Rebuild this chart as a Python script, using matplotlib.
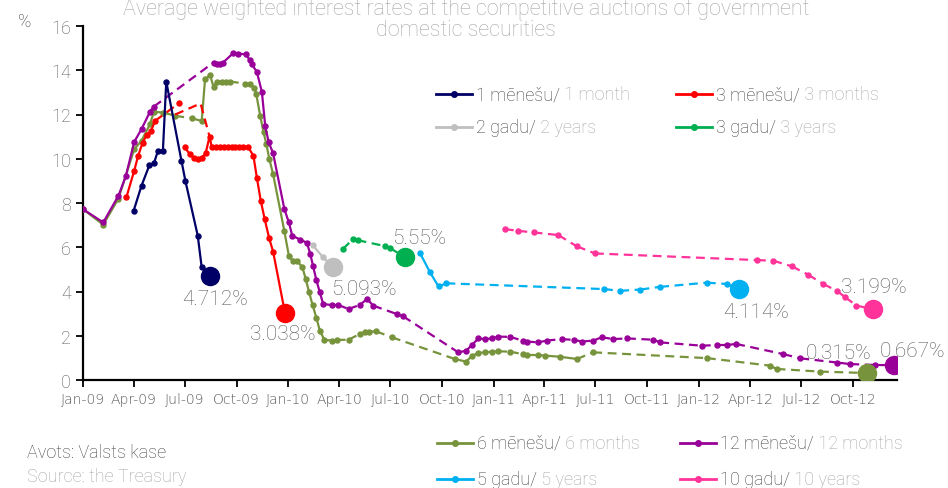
import datetime as dt
import matplotlib
matplotlib.use('Agg')
import matplotlib.pyplot as plt
from matplotlib.lines import Line2D

plt.rcParams['font.family'] = ['Roboto', 'DejaVu Sans']
plt.rcParams['font.weight'] = 'light'

title_lines = ['Average weighted interest rates at the competitive auctions of government',
               'domestic securities']

# None = pause between auctions (joined with a dashed line)
m1_dates = ['2009-04-01', '2009-04-15', '2009-04-29', '2009-05-07', '2009-05-14', '2009-05-23',
            '2009-05-29', '2009-06-25', '2009-07-02', '2009-07-24', '2009-07-31', '2009-08-15']
m1_vals = [7.65, 8.78, 9.71, 9.79, 10.34, 10.34, 13.49, 9.91, 9.0, 6.52, 5.09, 4.712]

m3_dates = ['2009-03-19', '2009-04-02', '2009-04-09', '2009-04-17', '2009-04-24', '2009-05-02', '2009-05-09', None,
            '2009-06-20', None,
            '2009-07-01', '2009-07-10', '2009-07-17', '2009-07-24', '2009-07-31', '2009-08-07', '2009-08-14',
            '2009-08-18', '2009-08-25', '2009-09-01', '2009-09-08', '2009-09-15', '2009-09-22', '2009-09-29',
            '2009-10-06', '2009-10-13', '2009-10-22', '2009-10-31', '2009-11-06', '2009-11-13', '2009-11-20',
            '2009-11-28', '2009-12-05', '2009-12-26']
m3_vals = [8.25, 9.45, 10.13, 10.73, 11.07, 11.26, 11.71, None,
           12.5, None,
           10.51, 10.2, 10.05, 10.01, 10.05, 10.25, 11.0,
           10.51, 10.51, 10.51, 10.51, 10.51, 10.51, 10.51,
           10.51, 10.51, 10.51, 10.13, 9.15, 8.10, 7.27,
           6.40, 5.80, 3.038]
m3_link_dates = ['2009-05-09', '2009-06-20', None, '2009-06-14', '2009-07-29', '2009-08-14']
m3_link_vals = [11.71, 12.5, None, 12.0, 12.5, 11.0]

m6_dates = ['2009-01-01', '2009-02-06', '2009-03-05', '2009-04-02', '2009-04-15', '2009-04-30', '2009-05-07',
            '2009-05-24', None,
            '2009-06-14', None,
            '2009-07-13', '2009-07-31', '2009-08-06', '2009-08-15', '2009-08-21', '2009-08-27', '2009-09-05',
            '2009-09-12', '2009-09-19', None,
            '2009-10-16', '2009-10-25', '2009-11-01', '2009-11-05', '2009-11-12', '2009-11-18', '2009-11-23',
            '2009-11-28', '2009-12-05', '2009-12-25', '2010-01-02', '2010-01-10', '2010-01-17', '2010-01-26',
            '2010-02-01', '2010-02-07', '2010-02-13', '2010-02-20', '2010-02-26', '2010-03-06', '2010-03-19',
            '2010-03-28', None,
            '2010-04-18', None,
            '2010-05-08', '2010-05-17', '2010-05-25', '2010-06-06', None,
            '2010-07-04', None,
            '2010-10-24', '2010-11-13', '2010-11-24', '2010-12-05', '2010-12-17', '2010-12-29', '2011-01-09', None,
            '2011-01-30', None,
            '2011-02-22', '2011-03-01', None,
            '2011-03-21', '2011-04-03', '2011-04-29', '2011-05-29', None,
            '2011-06-27', None,
            '2012-01-15', None,
            '2012-05-06', '2012-05-18', None,
            '2012-08-03', None,
            '2012-10-25']
m6_vals = [7.72, 7.02, 8.20, 10.43, 10.81, 11.56, 12.12,
           12.09, None,
           11.94, None,
           11.83, 11.71, 13.60, 13.78, 13.25, 13.49, 13.49,
           13.49, 13.49, None,
           13.40, 13.37, 13.22, 12.92, 11.94, 11.19, 10.66,
           10.01, 9.30, 6.72, 5.61, 5.36, 5.36, 5.10,
           4.56, 3.96, 3.40, 2.80, 2.23, 1.82, 1.78,
           1.81, None,
           1.82, None,
           2.08, 2.15, 2.18, 2.20, None,
           1.93, None,
           0.95, 0.83, 1.10, 1.22, 1.25, 1.28, 1.30, None,
           1.28, None,
           1.17, 1.13, None,
           1.13, 1.10, 1.05, 0.95, None,
           1.25, None,
           0.99, None,
           0.65, 0.50, None,
           0.38, None,
           0.315]

m12_dates = ['2009-01-01', '2009-02-06', '2009-03-05', '2009-03-18', '2009-04-02', '2009-04-15', '2009-04-30',
             '2009-05-07', None,
             '2009-08-21', '2009-08-28', '2009-09-02', '2009-09-07', '2009-09-25', '2009-10-04', '2009-10-18',
             '2009-10-24', '2009-10-28', '2009-11-06', '2009-11-15', '2009-11-21', '2009-11-27', '2009-12-05',
             '2009-12-25', '2010-01-02', '2010-01-08', '2010-01-22', '2010-02-03', '2010-02-09', '2010-02-14',
             '2010-02-20', '2010-02-26', '2010-03-04', '2010-03-19', '2010-03-31', None,
             '2010-04-18', None,
             '2010-05-08', '2010-05-21', '2010-06-01', None,
             '2010-07-13', '2010-07-24', None,
             '2010-10-30', '2010-11-13', '2010-11-24', '2010-12-05', '2010-12-17', '2010-12-29', '2011-01-09', None,
             '2011-01-30', None,
             '2011-02-22', '2011-03-01', None,
             '2011-03-21', None,
             '2011-04-05', None,
             '2011-05-02', None,
             '2011-05-24', None,
             '2011-06-07', None,
             '2011-06-27', '2011-07-12', None,
             '2011-08-02', None,
             '2011-08-26', None,
             '2011-10-12', '2011-10-24', None,
             '2012-01-06', None,
             '2012-02-02', None,
             '2012-02-19', '2012-03-07', None,
             '2012-05-30', None,
             '2012-06-29', None,
             '2012-09-02', '2012-09-26', None,
             '2012-11-09', '2012-12-12']
m12_vals = [7.72, 7.12, 8.33, 9.20, 10.76, 11.34, 12.12,
            12.36, None,
            14.35, 14.30, 14.30, 14.35, 14.77, 14.75, 14.72,
            14.47, 14.27, 13.93, 13.02, 11.46, 10.76, 10.24,
            7.72, 7.12, 6.52, 6.35, 6.20, 5.70, 5.15,
            4.50, 3.96, 3.43, 3.39, 3.39, None,
            3.21, None,
            3.39, 3.66, 3.36, None,
            2.98, 2.88, None,
            1.25, 1.32, 1.60, 1.88, 1.85, 1.88, 1.96, None,
            1.95, None,
            1.78, 1.74, None,
            1.70, None,
            1.78, None,
            1.85, None,
            1.81, None,
            1.74, None,
            1.78, 1.93, None,
            1.85, None,
            1.88, None,
            1.82, 1.70, None,
            1.55, None,
            1.58, None,
            1.58, 1.63, None,
            1.17, None,
            0.98, None,
            0.79, 0.72, None,
            0.68, 0.667]

y2_dates = ['2010-02-13', '2010-03-04', '2010-03-22']
y2_vals = [6.10, 5.54, 5.093]

y3_dates = ['2010-04-08', None, '2010-04-26', '2010-05-04', None, '2010-06-22', '2010-07-01', None, '2010-07-27']
y3_vals = [5.92, None, 6.37, 6.32, None, 6.05, 5.96, None, 5.55]

y5_dates = ['2010-08-23', '2010-09-10', '2010-09-25', '2010-10-09', None, '2011-07-16', None, '2011-08-14', None,
            '2011-09-19', None, '2011-10-24', None, '2012-01-15', None, '2012-02-19', None, '2012-03-12']
y5_vals = [5.74, 4.86, 4.23, 4.37, None, 4.11, None, 4.03, None,
           4.09, None, 4.21, None, 4.40, None, 4.34, None, 4.114]

y10_dates = ['2011-01-21', None, '2011-02-14', None, '2011-03-13', None, '2011-04-26', None, '2011-05-29', None,
             '2011-06-30', None, '2012-04-13', None, '2012-05-12', None, '2012-06-14', None, '2012-07-13', None,
             '2012-08-09', None, '2012-09-02', None, '2012-09-17', None, '2012-10-07', None, '2012-11-06']
y10_vals = [6.82, None, 6.74, None, 6.67, None, 6.55, None, 6.04, None,
            5.72, None, 5.42, None, 5.39, None, 5.14, None, 4.76, None,
            4.34, None, 4.03, None, 3.74, None, 3.36, None, 3.199]

x_ticks = ['2009-01-01', '2009-04-01', '2009-07-01', '2009-10-01', '2010-01-01', '2010-04-01', '2010-07-01',
           '2010-10-01', '2011-01-01', '2011-04-01', '2011-07-01', '2011-10-01', '2012-01-01', '2012-04-01',
           '2012-07-01', '2012-10-01']

DARK = '#404040'
LIGHT = '#A6A6A6'
W, H = 948, 489


def to_date(s):
    return dt.date.fromisoformat(s)


def split(dates, vals):
    segs, cur = [], []
    for d, v in zip(dates, vals):
        if d is None:
            segs.append(cur)
            cur = []
        else:
            cur.append((to_date(d), v))
    segs.append(cur)
    return segs


def draw(dates, vals, color, links=None):
    segs = split(dates, vals)
    dash = (0, (4, 2.5))
    for s in segs:
        xs, ys = zip(*s)
        ax.plot(xs, ys, color=color, lw=1.6, marker='o', ms=3.6, zorder=3)
    if links is None:
        for a, b in zip(segs[:-1], segs[1:]):
            ax.plot([a[-1][0], b[0][0]], [a[-1][1], b[0][1]], color=color, lw=1.6, ls=dash, zorder=3)
    else:
        for s in split(*links):
            xs, ys = zip(*s)
            ax.plot(xs, ys, color=color, lw=1.6, ls=dash, zorder=3)
    last = segs[-1][-1]
    ax.plot([last[0]], [last[1]], 'o', color=color, ms=13, zorder=4)
    return last


fig = plt.figure(figsize=(W / 100, H / 100), dpi=100)
ax = fig.add_axes([83 / W, 108 / H, 814 / W, 354 / H])

ends = {}
ends['m6'] = draw(m6_dates, m6_vals, '#77933C')
ends['m12'] = draw(m12_dates, m12_vals, '#990099')
ends['m3'] = draw(m3_dates, m3_vals, '#FF0000', links=(m3_link_dates, m3_link_vals))
ends['m1'] = draw(m1_dates, m1_vals, '#000066')
ends['y2'] = draw(y2_dates, y2_vals, '#BFBFBF')
ends['y3'] = draw(y3_dates, y3_vals, '#00B050')
ends['y5'] = draw(y5_dates, y5_vals, '#00B0F0')
ends['y10'] = draw(y10_dates, y10_vals, '#FF3399')

# value labels at the last auction
offsets = {'m1': (5, -23), 'm3': (-2, -21), 'y2': (31, -21), 'y3': (14, 20),
           'y5': (17, -23), 'y10': (0, 23), 'm6': (-28, 21), 'm12': (19, 15)}
for key, (d, v) in ends.items():
    txt = f'{v:.3f}'.rstrip('0') + '%' if key != 'y3' else f'{v:.2f}%'
    ax.annotate(txt, (d, v), xytext=offsets[key], textcoords='offset pixels',
                ha='center', va='center', fontsize=15, color='#595959', zorder=5)

ax.set_ylim(0, 16)
ax.set_yticks(range(0, 17, 2))
ax.set_xlim(to_date('2009-01-01'), to_date('2012-12-18'))
ax.set_xticks([to_date(t) for t in x_ticks])
ax.set_xticklabels([to_date(t).strftime('%b-%y') for t in x_ticks],
                   family=['Liberation Sans Narrow', 'DejaVu Sans'], fontsize=10)
for s in ['top', 'right']:
    ax.spines[s].set_visible(False)
for s in ['left', 'bottom']:
    ax.spines[s].set_linewidth(1.6)
ax.tick_params(axis='both', colors='black', labelcolor='#595959', length=5, width=1.3)
ax.tick_params(axis='y', labelsize=13)
ax.patch.set_alpha(0)

# title (kept fully inside the figure)
fig.text(466 / W, 1 - 15 / H, title_lines[0], ha='center', va='baseline', fontsize=15.5, color=LIGHT)
fig.text(466 / W, 1 - 36 / H, title_lines[1], ha='center', va='baseline', fontsize=15.5, color=LIGHT)
fig.text(25 / W, 1 - 22 / H, '%', ha='center', va='center', fontsize=13, color=DARK)

# legends (two-colour labels)
legend_items = [
    (436, 95, '#000066', '1 mēnešu/', ' 1 month'),
    (676, 95, '#FF0000', '3 mēnešu/', ' 3 months'),
    (436, 128, '#BFBFBF', '2 gadu/', ' 2 years'),
    (676, 128, '#00B050', '3 gadu/', ' 3 years'),
    (437, 444, '#77933C', '6 mēnešu/', ' 6 months'),
    (680, 444, '#990099', '12 mēnešu/', ' 12 months'),
    (437, 480, '#00B0F0', '5 gadu/', ' 5 years'),
    (680, 480, '#FF3399', '10 gadu/', ' 10 years'),
]
for x0, y0, col, lv, en in legend_items:
    yf = 1 - y0 / H
    fig.add_artist(Line2D([x0 / W, (x0 + 36) / W], [yf, yf], color=col, lw=2, transform=fig.transFigure))
    fig.add_artist(Line2D([(x0 + 18) / W], [yf], color=col, marker='o', ms=4, transform=fig.transFigure))
    t = fig.text((x0 + 40) / W, yf, lv, ha='left', va='center', fontsize=13, color=DARK)
    ax.annotate(en, xy=(1, 0), xycoords=t, ha='left', va='bottom', fontsize=13, color=LIGHT,
                annotation_clip=False)

fig.text(27 / W, 1 - 453 / H, 'Avots: Valsts kase', ha='left', va='center', fontsize=13, color=DARK)
fig.text(27 / W, 1 - 477 / H, 'Source: the Treasury', ha='left', va='center', fontsize=13, color=LIGHT)

fig.savefig('out.png', dpi=100)
